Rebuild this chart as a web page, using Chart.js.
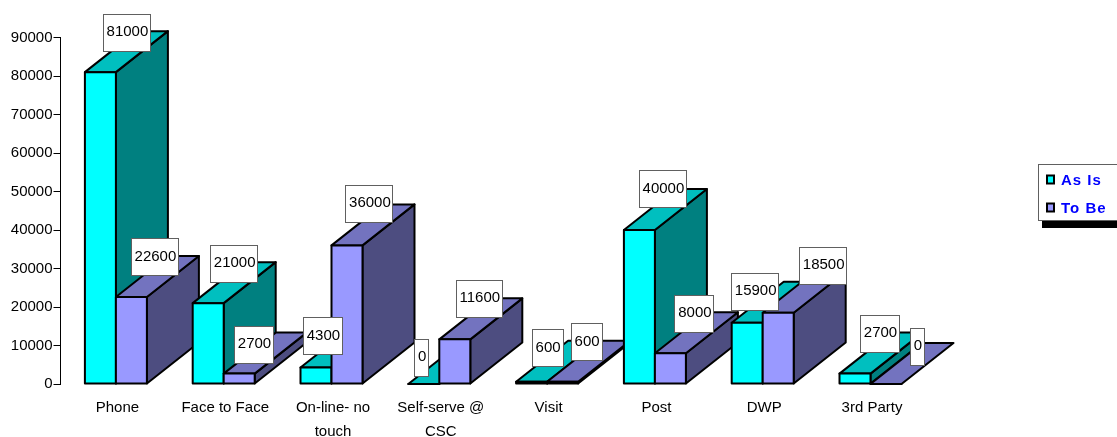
<!DOCTYPE html>
<html>
<head>
<meta charset="utf-8">
<style>
  html, body { margin: 0; padding: 0; background: #fff; }
  canvas { display: block; }
</style>
<script src="https://cdn.jsdelivr.net/npm/chart.js@4/dist/chart.umd.min.js"></script>
</head>
<body>
<canvas id="chart" width="1117" height="437"></canvas>
<script>
// Contact volumes per channel, current and proposed
const categories = ['Phone', 'Face to Face', ['On-line- no', 'touch'], ['Self-serve @', 'CSC'], 'Visit', 'Post', 'DWP', '3rd Party'];
const asIsValues = [81000, 21000, 4300, 0, 600, 40000, 15900, 2700];
const toBeValues = [22600, 2700, 36000, 11600, 600, 8000, 18500, 0];
const seriesNames = ['As Is', 'To Be'];

// Front, top and side shades of each series
const asIsShades = { front: '#00FFFF', top: '#00BFBF', side: '#008080' };
const toBeShades = { front: '#9999FF', top: '#7373BF', side: '#4D4D80' };

// Centre of each value box, relative to the top of its bar
const asIsLabelOffsets = [[26, -40], [25.5, -40], [6.4, -32], [-2.7, -27], [15.5, -33.7], [23, -41.5], [7.5, -31.5], [24.5, -40.6]];
const toBeLabelOffsets = [[23, -40.5], [14.3, -29.6], [21.9, -42.4], [24, -41], [23.5, -40.3], [23.5, -40.2], [44.5, -47.5], [31, -38]];

const FONT = '"Liberation Sans", Arial, sans-serif';
const DEPTH_X = 52;
const DEPTH_Y = -41;

function polygon(ctx, pts, fill) {
  ctx.beginPath();
  pts.forEach((p, i) => (i ? ctx.lineTo(p[0], p[1]) : ctx.moveTo(p[0], p[1])));
  ctx.closePath();
  ctx.fillStyle = fill;
  ctx.fill();
  ctx.stroke();
}

// Extruded bars, painted back to front so nearer groups cover farther ones
const bars3d = {
  id: 'bars3d',
  afterLayout(chart) {
    // The value axis sits just left of the category band
    const y = chart.scales.y;
    y.left -= 1.5;
    y.right -= 1.5;
  },
  beforeDatasetsDraw(chart) {
    const ctx = chart.ctx;
    const shades = [asIsShades, toBeShades];
    ctx.save();
    ctx.strokeStyle = '#000';
    ctx.lineWidth = 2;
    ctx.lineJoin = 'round';
    categories.forEach((_, i) => {
      shades.forEach((shade, d) => {
        const bar = chart.getDatasetMeta(d).data[i];
        const p = bar.getProps(['x', 'y', 'base', 'width']);
        const l = p.x - p.width / 2, r = p.x + p.width / 2;
        const t = p.y, b = p.base;
        if (b - t > 0.01) {
          polygon(ctx, [[r, t], [r + DEPTH_X, t + DEPTH_Y], [r + DEPTH_X, b + DEPTH_Y], [r, b]], shade.side);
        }
        polygon(ctx, [[l, t], [l + DEPTH_X, t + DEPTH_Y], [r + DEPTH_X, t + DEPTH_Y], [r, t]], shade.top);
        bar.draw(ctx);
        ctx.strokeRect(l, t, r - l, b - t);
      });
    });
    ctx.restore();
    return false;
  },
  afterDraw(chart) {
    const ctx = chart.ctx;
    ctx.save();
    ctx.font = '15px ' + FONT;
    ctx.textAlign = 'center';
    ctx.textBaseline = 'middle';
    [asIsLabelOffsets, toBeLabelOffsets].forEach((offsets, d) => {
      chart.data.datasets[d].data.forEach((value, i) => {
        const bar = chart.getDatasetMeta(d).data[i];
        const p = bar.getProps(['x', 'y']);
        const text = String(value);
        const w = ctx.measureText(text).width + 5.5;
        const cx = p.x + offsets[i][0], cy = p.y + offsets[i][1];
        ctx.fillStyle = '#fff';
        ctx.strokeStyle = '#606060';
        ctx.lineWidth = 1;
        const x0 = Math.round(cx - w / 2) + 0.5, y0 = Math.round(cy - 18.5) + 0.5;
        ctx.fillRect(x0, y0, Math.round(w), 37);
        ctx.strokeRect(x0, y0, Math.round(w), 37);
        ctx.fillStyle = '#000';
        ctx.fillText(text, cx + 1, cy);
      });
    });
    // Framed legend with a hard drop shadow
    ctx.fillStyle = '#000';
    ctx.fillRect(1042, 172, 75, 56);
    ctx.fillStyle = '#fff';
    ctx.strokeStyle = '#606060';
    ctx.fillRect(1038, 164, 79, 56);
    ctx.strokeRect(1038.5, 164.5, 79, 56);
    ctx.textAlign = 'left';
    ctx.font = 'bold 15px ' + FONT;
    ctx.letterSpacing = '1px';
    chart.data.datasets.forEach((ds, d) => {
      const cy = 179.5 + d * 28;
      ctx.fillStyle = ds.backgroundColor;
      ctx.strokeStyle = '#000';
      ctx.lineWidth = 2;
      ctx.fillRect(1047, cy - 4, 7, 8);
      ctx.strokeRect(1047, cy - 4, 7, 8);
      ctx.fillStyle = '#0000FF';
      ctx.fillText(ds.label, 1061, cy + 1);
    });
    ctx.restore();
  }
};

new Chart(document.getElementById('chart'), {
  type: 'bar',
  data: {
    labels: categories,
    datasets: [
      { label: seriesNames[0], data: asIsValues, backgroundColor: asIsShades.front },
      { label: seriesNames[1], data: toBeValues, backgroundColor: toBeShades.front }
    ]
  },
  plugins: [bars3d],
  options: {
    responsive: false,
    animation: false,
    events: [],
    layout: { padding: { top: 37.5, right: 192.6, left: 0, bottom: 0 } },
    datasets: {
      bar: { barPercentage: 1, categoryPercentage: 0.5751, borderWidth: 0, inflateAmount: 0 }
    },
    plugins: { legend: { display: false }, tooltip: { enabled: false } },
    scales: {
      x: {
        afterFit(scale) { scale.height = 53; },
        grid: { display: false },
        border: { display: false },
        ticks: {
          autoSkip: false,
          maxRotation: 0,
          minRotation: 0,
          padding: 4,
          labelOffset: 1.5,
          color: '#000',
          font: { family: FONT, size: 15, lineHeight: 1.6 }
        }
      },
      y: {
        min: 0,
        max: 90000,
        afterFit(scale) { scale.width = 62; },
        grid: { drawOnChartArea: false, color: '#000', tickLength: 7, tickWidth: 1 },
        border: { display: true, color: '#000', width: 1 },
        ticks: {
          stepSize: 10000,
          autoSkip: false,
          padding: 1,
          color: '#000',
          font: { family: FONT, size: 15 },
          callback: v => String(v)
        }
      }
    }
  }
});
</script>
</body>
</html>
